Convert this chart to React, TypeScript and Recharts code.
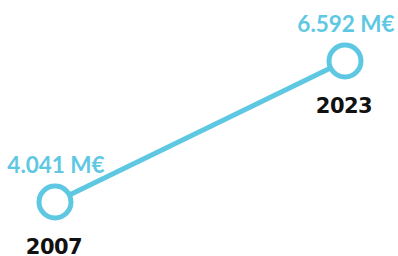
import { LineChart, Line, XAxis, YAxis, LabelList } from "recharts";

const years = ["2007", "2023"];
const values = [4.041, 6.592]; // millones de euros

const data = years.map((year, i) => ({ year, value: values[i] }));

const BLUE = "#5ec8e3";

const ValueLabel = (props: any) => {
  const { x, y, value } = props;
  return (
    <text
      x={x + 1}
      y={y - 29}
      textAnchor="middle"
      fill={BLUE}
      fontFamily="Lato, sans-serif"
      fontWeight={700}
      fontSize={22.5}
    >
      {`${Number(value).toFixed(3)} M€`}
    </text>
  );
};

const YearLabel = (props: any) => {
  const { x, y, value } = props;
  return (
    <text
      x={x - 1}
      y={y + 52}
      textAnchor="middle"
      fill="#111"
      fontFamily="'DejaVu Sans', sans-serif"
      fontWeight={700}
      fontSize={21}
      letterSpacing={-0.5}
    >
      {value}
    </text>
  );
};

export default function App() {
  return (
    <div style={{ position: "absolute", left: 0, top: 0, background: "#fff" }}>
      <LineChart
        width={398}
        height={256}
        data={data}
        margin={{ top: 61, right: 53, left: 55, bottom: 54 }}
      >
        <XAxis dataKey="year" hide />
        <YAxis hide domain={["dataMin", "dataMax"]} />
        <Line
          dataKey="value"
          stroke={BLUE}
          strokeWidth={5}
          isAnimationActive={false}
          dot={{ r: 16, fill: "#fff", stroke: BLUE, strokeWidth: 5 }}
        >
          <LabelList dataKey="value" content={<ValueLabel />} />
          <LabelList dataKey="year" content={<YearLabel />} />
        </Line>
      </LineChart>
    </div>
  );
}
